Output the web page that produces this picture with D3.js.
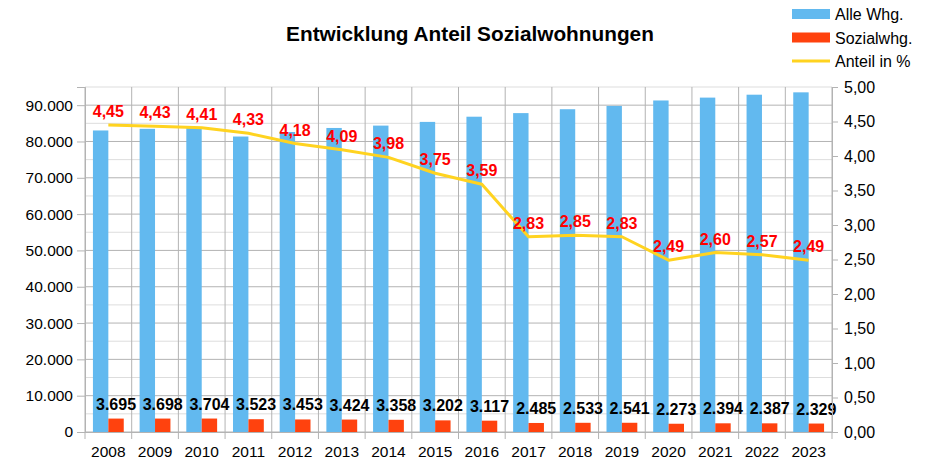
<!DOCTYPE html>
<html>
<head>
<meta charset="utf-8">
<script src="https://cdn.jsdelivr.net/npm/d3@7"></script>
<style>
  body { margin: 0; background: #fff; }
  svg { font-family: "Liberation Sans", Arial, sans-serif; }
</style>
</head>
<body>
<svg id="chart" width="940" height="473"></svg>
<script>
// Daten
const years = ['2008','2009','2010','2011','2012','2013','2014','2015','2016','2017','2018','2019','2020','2021','2022','2023'];
const alleWhg = [83030, 83480, 83990, 81360, 82610, 83720, 84370, 85390, 86820, 87810, 88880, 89790, 91290, 92080, 92880, 93530];
const sozialWhg = [3695, 3698, 3704, 3523, 3453, 3424, 3358, 3202, 3117, 2485, 2533, 2541, 2273, 2394, 2387, 2329];
const anteil = [4.45, 4.43, 4.41, 4.33, 4.18, 4.09, 3.98, 3.75, 3.59, 2.83, 2.85, 2.83, 2.49, 2.60, 2.57, 2.49];
const leftTicks = [0, 10000, 20000, 30000, 40000, 50000, 60000, 70000, 80000, 90000];
const rightTicks = [0, 0.5, 1, 1.5, 2, 2.5, 3, 3.5, 4, 4.5, 5];

const svg = d3.select('#chart');
const margin = { top: 87, right: 108, bottom: 41, left: 85 };
const width = 940 - margin.left - margin.right;
const height = 473 - margin.top - margin.bottom;

const g = svg.append('g').attr('transform', `translate(${margin.left},${margin.top})`);

const x = d3.scaleBand().domain(years).range([0, width]).paddingInner(0).paddingOuter(0);
const yL = d3.scaleLinear().domain([0, 95000]).range([height, 0]);
const yR = d3.scaleLinear().domain([0, 5]).range([height, 0]);

const fmtDe = d3.formatLocale({ decimal: ',', thousands: '.', grouping: [3], currency: ['', '€'] });
const fmtThousands = fmtDe.format(',d');
const fmtPct = fmtDe.format('.2f');

// Gitter
const minor = d3.range(5000, 95001, 10000);
g.selectAll('.minor').data(minor).enter().append('line')
  .attr('x1', 0).attr('x2', width)
  .attr('y1', d => yL(d)).attr('y2', d => yL(d))
  .attr('stroke', '#dddddd').attr('stroke-width', 1);
g.selectAll('.major').data(leftTicks).enter().append('line')
  .attr('x1', 0).attr('x2', width)
  .attr('y1', d => yL(d)).attr('y2', d => yL(d))
  .attr('stroke', '#b3b3b3').attr('stroke-width', 1);
g.selectAll('.vgrid').data(years.concat(['end'])).enter().append('line')
  .attr('x1', (d, i) => i * x.step()).attr('x2', (d, i) => i * x.step())
  .attr('y1', 0).attr('y2', height)
  .attr('stroke', '#b3b3b3').attr('stroke-width', 1);

// Balken
const groupW = x.bandwidth() * 0.66;
const barW = groupW / 2;
const gOff = (x.bandwidth() - groupW) / 2;

g.selectAll('.bar-alle').data(alleWhg).enter().append('rect')
  .attr('x', (d, i) => x(years[i]) + gOff)
  .attr('y', d => yL(d))
  .attr('width', barW)
  .attr('height', d => height - yL(d))
  .attr('fill', '#62b9ef');

g.selectAll('.bar-sozial').data(sozialWhg).enter().append('rect')
  .attr('x', (d, i) => x(years[i]) + gOff + barW)
  .attr('y', d => yL(d))
  .attr('width', barW)
  .attr('height', d => height - yL(d))
  .attr('fill', '#ff420e');

// Linie
const line = d3.line()
  .x((d, i) => x(years[i]) + x.bandwidth() / 2)
  .y(d => yR(d));
g.append('path').datum(anteil)
  .attr('d', line)
  .attr('fill', 'none')
  .attr('stroke', '#ffd320')
  .attr('stroke-width', 3)
  .attr('stroke-linejoin', 'round');

// Beschriftungen
g.selectAll('.lbl-sozial').data(sozialWhg).enter().append('text')
  .attr('x', (d, i) => x(years[i]) + gOff + barW * 1.5)
  .attr('y', d => yL(d) - 9)
  .attr('text-anchor', 'middle')
  .attr('font-size', 16).attr('font-weight', 'bold').attr('fill', '#000')
  .text(d => fmtThousands(d));

g.selectAll('.lbl-anteil').data(anteil).enter().append('text')
  .attr('x', (d, i) => x(years[i]) + x.bandwidth() / 2)
  .attr('y', d => yR(d) - 8)
  .attr('text-anchor', 'middle')
  .attr('font-size', 16).attr('font-weight', 'bold').attr('fill', '#ff0000')
  .text(d => fmtPct(d));

// Achsen
const axL = g.append('g')
  .call(d3.axisLeft(yL).tickValues(leftTicks).tickSize(8).tickPadding(4).tickFormat(d => fmtThousands(d)));
const axR = g.append('g').attr('transform', `translate(${width},0)`)
  .call(d3.axisRight(yR).tickValues(rightTicks).tickSize(6).tickPadding(6).tickFormat(d => fmtPct(d)));
const axB = g.append('g').attr('transform', `translate(0,${height})`)
  .call(d3.axisBottom(x).tickSize(0).tickPadding(14));
g.append('g').attr('transform', `translate(0,${height})`)
  .selectAll('line').data(years.concat(['end'])).enter().append('line')
  .attr('x1', (d, i) => i * x.step()).attr('x2', (d, i) => i * x.step())
  .attr('y1', 0).attr('y2', 7).attr('stroke', '#b3b3b3');

[axL, axR, axB].forEach(a => {
  a.select('.domain').attr('stroke', '#b3b3b3');
  a.selectAll('.tick line').attr('stroke', '#b3b3b3');
  a.selectAll('text').attr('font-size', 16).attr('fill', '#000')
    .attr('font-family', '"Liberation Sans", Arial, sans-serif');
});
axL.selectAll('text').attr('font-size', 15.5);
axB.selectAll('text').attr('font-size', 15.5);

// Titel
svg.append('text')
  .attr('x', 470).attr('y', 41)
  .attr('text-anchor', 'middle')
  .attr('font-size', 20.8).attr('font-weight', 'bold')
  .text('Entwicklung Anteil Sozialwohnungen');

// Legende
const legend = [
  { name: 'Alle Whg.', color: '#62b9ef', type: 'rect' },
  { name: 'Sozialwhg.', color: '#ff420e', type: 'rect' },
  { name: 'Anteil in %', color: '#ffd320', type: 'line' }
];
const lg = svg.append('g').attr('transform', 'translate(792,14)');
legend.forEach((l, i) => {
  const row = lg.append('g').attr('transform', `translate(0,${i * 23.5})`);
  if (l.type === 'rect') {
    row.append('rect').attr('x', 0).attr('y', -5).attr('width', 38).attr('height', 10).attr('fill', l.color);
  } else {
    row.append('line').attr('x1', 0).attr('x2', 38).attr('y1', 0).attr('y2', 0)
      .attr('stroke', l.color).attr('stroke-width', 3);
  }
  row.append('text').attr('x', 43).attr('y', 6).attr('font-size', 16).text(l.name);
});
</script>
</body>
</html>
